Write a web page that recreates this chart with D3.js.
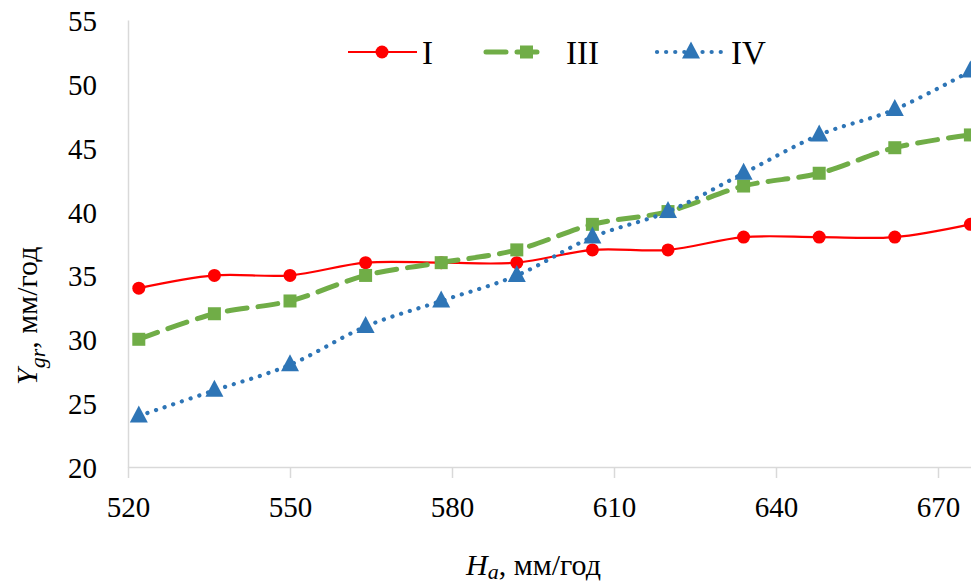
<!DOCTYPE html>
<html>
<head>
<meta charset="utf-8">
<script src="https://cdn.jsdelivr.net/npm/d3@7"></script>
<style>
  html, body { margin: 0; padding: 0; background: #fff; overflow: hidden; }
  svg { display: block; }
</style>
</head>
<body>
<svg id="chart" width="971" height="586" font-family="Liberation Serif, Tinos, Times New Roman, DejaVu Serif, serif"></svg>
<script>
// Precipitation (H_a, mm/year) along the x axis
const precipitation = [522, 536, 550, 564, 578, 592, 606, 620, 634, 648, 662, 676];

// Yield Y_gr (mm/year) for each variant
const seriesI   = [34, 35, 35, 36, 36, 36, 37, 37, 38, 38, 38, 39];
const seriesIII = [30, 32, 33, 35, 36, 37, 39, 40, 42, 43, 45, 46];
const seriesIV  = [24, 26, 28, 31, 33, 35, 38, 40, 43, 46, 48, 51];

const xTicks = [520, 550, 580, 610, 640, 670];
const yTicks = [20, 25, 30, 35, 40, 45, 50, 55];

const seriesNames = ["I", "III", "IV"];

const serif = "Liberation Serif, Tinos, Times New Roman, DejaVu Serif, serif";
const svg = d3.select("#chart");

const x = d3.scaleLinear().domain([520, 680]).range([128, 992]);
const y = d3.scaleLinear().domain([20, 55]).range([467, 20]);

const axisColor = "#d9d9d9";

// Y axis: bare line with labels
const yAxis = svg.append("g").attr("transform", "translate(128,0)")
  .call(d3.axisLeft(y).tickValues(yTicks).tickSize(0).tickPadding(31).tickFormat(d3.format("d")));
yAxis.attr("font-family", serif).attr("font-size", 29);
yAxis.select(".domain").attr("stroke", axisColor).attr("stroke-width", 1.5);
yAxis.selectAll("text").attr("dy", "0.36em").attr("fill", "#000");

// X axis with outward ticks
const xAxis = svg.append("g").attr("transform", "translate(0,467)")
  .call(d3.axisBottom(x).tickValues(xTicks).tickSize(11).tickSizeOuter(0).tickPadding(18).tickFormat(d3.format("d")));
xAxis.attr("font-family", serif).attr("font-size", 29);
xAxis.select(".domain").attr("stroke", axisColor).attr("stroke-width", 1.5);
xAxis.selectAll(".tick line").attr("stroke", axisColor).attr("stroke-width", 1.5);
xAxis.selectAll("text").attr("dy", "0.71em").attr("fill", "#000");

const styles = [
  { color: "#ff0000", width: 2.2, dash: null, cap: "butt", marker: "circle" },
  { color: "#70ad47", width: 5, dash: "20,11", cap: "round", marker: "square" },
  { color: "#2e75b6", width: 4.2, dash: "0.1,9", cap: "round", marker: "triangle" }
];
const allSeries = [seriesI, seriesIII, seriesIV];

const line = d3.line()
  .x((d, i) => x(precipitation[i]))
  .y(d => y(d))
  .curve(d3.curveCatmullRom.alpha(0));

function drawMarker(g, kind, color) {
  if (kind === "circle") {
    g.append("circle").attr("r", 6.5).attr("fill", color);
  } else if (kind === "square") {
    g.append("rect").attr("x", -6.5).attr("y", -6.5).attr("width", 13).attr("height", 13).attr("fill", color);
  } else {
    g.append("path").attr("d", "M0,-10.5L9,6.5L-9,6.5Z").attr("fill", color);
  }
}

allSeries.forEach((vals, si) => {
  const st = styles[si];
  const g = svg.append("g");
  g.append("path")
    .datum(vals)
    .attr("d", line)
    .attr("fill", "none")
    .attr("stroke", st.color)
    .attr("stroke-width", st.width)
    .attr("stroke-linecap", st.cap)
    .attr("stroke-dasharray", st.dash);
  vals.forEach((v, i) => {
    const m = g.append("g").attr("transform", `translate(${x(precipitation[i])},${y(v)})`);
    drawMarker(m, st.marker, st.color);
  });
});

// Legend
const legendItems = [
  { x0: 348, tx: 422 },
  { x0: 483, tx: 566 },
  { x0: 657, tx: 731 }
];
legendItems.forEach((it, si) => {
  const st = styles[si];
  const ly = 52;
  const g = svg.append("g");
  let x1 = it.x0 + 69;
  if (si === 1) x1 = it.x0 + 63;
  g.append("line")
    .attr("x1", it.x0 + (si === 1 ? 3 : 0)).attr("x2", x1)
    .attr("y1", ly).attr("y2", ly)
    .attr("stroke", st.color)
    .attr("stroke-width", st.width)
    .attr("stroke-linecap", st.cap)
    .attr("stroke-dasharray", st.dash);
  const mx = si === 1 ? it.x0 + 43.5 : it.x0 + 34;
  const m = g.append("g").attr("transform", `translate(${mx},${ly})`);
  drawMarker(m, st.marker, st.color);
  g.append("text").attr("x", it.tx).attr("y", 64).attr("font-size", 33).text(seriesNames[si]);
});

// Axis titles
const xt = svg.append("text").attr("x", 466).attr("y", 575).attr("font-size", 30);
xt.append("tspan").attr("font-style", "italic").text("H");
xt.append("tspan").attr("font-style", "italic").attr("font-size", 22).attr("dy", 4).text("a");
xt.append("tspan").attr("dy", -4).text(", мм/год");

const yt = svg.append("text")
  .attr("transform", "translate(37,385) rotate(-90)")
  .attr("font-size", 30);
yt.append("tspan").attr("font-style", "italic").text("Y");
yt.append("tspan").attr("font-style", "italic").attr("font-size", 22).attr("dy", 8).text("gr");
yt.append("tspan").attr("dy", -8).text(", мм/год");
</script>
</body>
</html>
